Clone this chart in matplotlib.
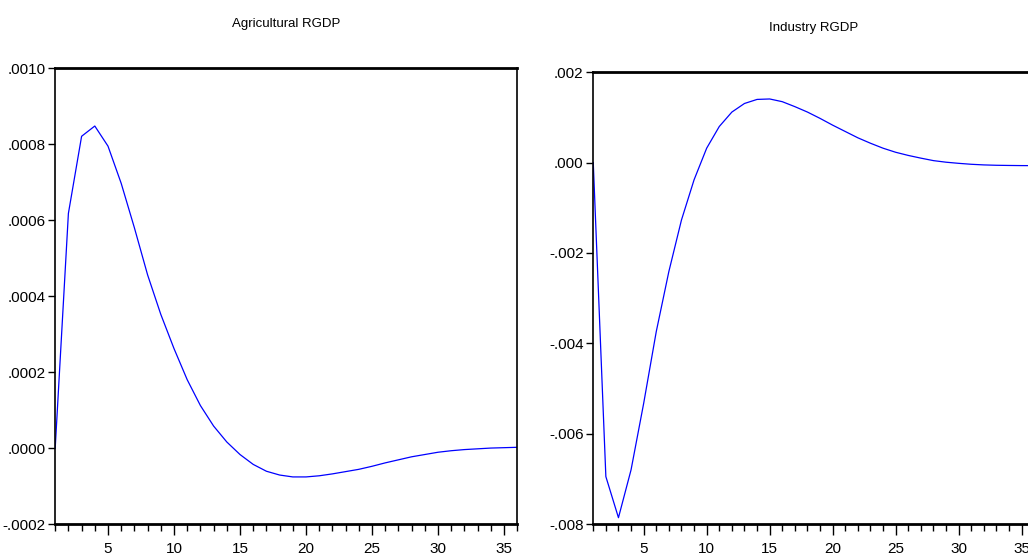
import matplotlib
matplotlib.use("Agg")
import matplotlib.pyplot as plt
from matplotlib.ticker import MultipleLocator, FuncFormatter

plt.rcParams['font.family'] = ['Liberation Sans', 'DejaVu Sans']

periods = list(range(1, 37))

# response of agricultural RGDP
agri = [0.0, 0.000618, 0.000821, 0.000848, 0.000795, 0.000697, 0.000580,
        0.000456, 0.000352, 0.000262, 0.000180, 0.000112, 0.000058,
        0.000016, -0.000017, -0.000043, -0.000061, -0.000071, -0.000076,
        -0.000076, -0.000073, -0.000068, -0.000062, -0.000056, -0.000048,
        -0.000039, -0.000031, -0.000023, -0.000017, -0.000011, -0.000007,
        -0.000004, -0.000002, 0.0, 0.000001, 0.000002]

# response of industry RGDP
indu = [0.0, -0.00695, -0.00786, -0.00680, -0.00533, -0.00374, -0.00241,
        -0.00127, -0.00038, 0.00032, 0.00080, 0.00112, 0.00131, 0.00140,
        0.00141, 0.00135, 0.00124, 0.00112, 0.00098, 0.00083, 0.00069,
        0.00055, 0.00043, 0.00032, 0.00023, 0.00016, 0.00010, 0.000045,
        0.00001, -0.000015, -0.000036, -0.00005, -0.000058, -0.000062,
        -0.000065, -0.000066]

panels = [
    ("Agricultural RGDP", agri, (-0.0002, 0.0010), 0.0002, 4,
     [0.0537, 0.0609, 0.4494, 0.8167]),
    ("Industry RGDP", indu, (-0.008, 0.002), 0.002, 3,
     [0.5771, 0.0609, 0.4290, 0.8095]),
]


def eviews_fmt(dec):
    def f(v, pos):
        if abs(v) < 1e-12:
            v = 0.0
        return f"{v:.{dec}f}".replace("0.", ".", 1)
    return FuncFormatter(f)


fig = plt.figure(figsize=(10.28, 5.58), dpi=100)

for title, vals, ylim, step, dec, rect in panels:
    ax = fig.add_axes(rect)
    ax.plot(periods, vals, color="#0000ff", lw=0.9)
    ax.set_xlim(1, 36)
    ax.set_ylim(*ylim)
    ax.yaxis.set_major_locator(MultipleLocator(step))
    ax.yaxis.set_major_formatter(eviews_fmt(dec))
    ax.xaxis.set_major_locator(MultipleLocator(5))
    ax.xaxis.set_minor_locator(MultipleLocator(1))
    ax.tick_params(axis="y", direction="out", length=5, width=1,
                   labelsize=11, pad=2)
    ax.tick_params(axis="x", which="major", direction="out", length=8,
                   width=1, labelsize=11, pad=5)
    ax.tick_params(axis="x", which="minor", direction="out", length=5,
                   width=1)
    for side in ["left", "right"]:
        ax.spines[side].set_linewidth(1.2)
    for side in ["top", "bottom"]:
        ax.spines[side].set_linewidth(2)
    ax.set_title(title, fontsize=9.5, pad=30)

fig.savefig("out.png", dpi=100)
